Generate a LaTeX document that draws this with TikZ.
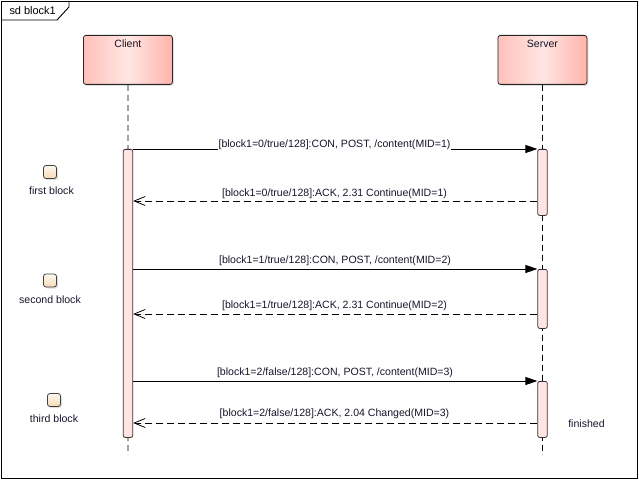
\documentclass[tikz,border=0pt]{standalone}
\usepackage{fontspec}
\setmainfont{Liberation Sans}
\usetikzlibrary{arrows.meta,shadows}
\definecolor{hdrL}{HTML}{FFC0BA}
\definecolor{hdrM}{HTML}{FFE6E3}
\definecolor{hdrR}{HTML}{FFB4AB}
\definecolor{actfill}{HTML}{FFE4E2}
\definecolor{blkTop}{HTML}{FFF9F0}
\definecolor{blkBot}{HTML}{F5DAB5}
\definecolor{txt}{HTML}{15152A}
\begin{document}
\begin{tikzpicture}[x=1bp,y=-1bp,
  every node/.style={font=\fontsize{10.6}{12}\selectfont, text=txt},
  hdr/.style={draw=black!85, line width=0.8bp, rounded corners=2.5bp, left color=hdrL, right color=hdrR, middle color=hdrM,
     minimum width=89bp, minimum height=49bp, inner sep=0pt, anchor=north west,
     drop shadow={opacity=0.25, shadow xshift=1.5bp, shadow yshift=-1.5bp}},
  act/.style={draw=black!80, line width=0.8bp, fill=actfill, rounded corners=2bp, minimum width=9.5bp, inner sep=0pt, anchor=north},
  life/.style={line width=0.8bp, dash pattern=on 6bp off 4bp},
  call/.style={line width=0.8bp, -{Triangle[length=12bp,width=8bp]}},
  reply/.style={line width=0.8bp, dash pattern=on 7bp off 4bp, -{Straight Barb[length=11bp,width=9bp,line width=0.8bp]}},
  lbl/.style={inner sep=1pt},
  blk/.style={draw=black!75, line width=0.8bp, rounded corners=2.5bp, top color=blkTop, bottom color=blkBot,
     minimum width=13bp, minimum height=13bp, inner sep=0pt,
     drop shadow={opacity=0.25, shadow xshift=1.5bp, shadow yshift=-1.5bp}}
]
\useasboundingbox (0,0) rectangle (639,480);
% frame
\draw[line width=0.9bp] (1,1) rectangle (637.5,478.5);
\draw[line width=0.9bp] (1,20) -- (57,20) -- (69,7) -- (69,1);
\node[anchor=west, font=\fontsize{11}{13}\selectfont, text=black] (title) at (6,10.5) {sd block1};

% lifeline heads
\node[hdr] (client) at (83,35) {};
\node[hdr] (server) at (497.5,35) {};
\node[anchor=north, inner sep=0pt] (clientlbl) at ([yshift=-5bp]client.north) {Client};
\node[anchor=north, inner sep=0pt] (serverlbl) at ([yshift=-5bp]server.north) {Server};

% lifelines
\coordinate (cend) at (128,455);
\coordinate (send) at (542.5,455);
\draw[life] (client.south) -- (cend);
\draw[life] (server.south) -- (send);

% activations
\node[act, minimum height=288bp] (cact) at (128,149) {};
\node[act, minimum height=66bp] (s1) at (542.5,149) {};
\node[act, minimum height=59bp] (s2) at (542.5,269) {};
\node[act, minimum height=56bp] (s3) at (542.5,381) {};

% messages
\draw[call] (cact.east |- 0,149) -- (s1.north west);
\node[lbl, fill=white] (m1) at (334.5,145) {[block1=0/true/128]:CON, POST, /content(MID=1)};
\draw[reply] (s1.west |- 0,201) -- (cact.east |- 0,201);
\node[lbl] (m2) at (334.5,194) {[block1=0/true/128]:ACK, 2.31 Continue(MID=1)};

\draw[call] (cact.east |- 0,269) -- (s2.north west);
\node[lbl] (m3) at (335,261) {[block1=1/true/128]:CON, POST, /content(MID=2)};
\draw[reply] (s2.west |- 0,314) -- (cact.east |- 0,314);
\node[lbl] (m4) at (334.5,306) {[block1=1/true/128]:ACK, 2.31 Continue(MID=2)};

\draw[call] (cact.east |- 0,381) -- (s3.north west);
\node[lbl] (m5) at (335,373) {[block1=2/false/128]:CON, POST, /content(MID=3)};
\draw[reply] (s3.west |- 0,423) -- (cact.east |- 0,423);
\node[lbl] (m6) at (334.5,414) {[block1=2/false/128]:ACK, 2.04 Changed(MID=3)};

% block markers
\node[blk] (b1) at (50,172) {};
\node (b1t) at (51.5,190.5) {first block};
\node[blk] (b2) at (50,280.5) {};
\node (b2t) at (50,299.5) {second block};
\node[blk] (b3) at (54,400) {};
\node (b3t) at (54,419) {third block};

\node (fin) at (586.5,424) {finished};
\end{tikzpicture}
\end{document}
